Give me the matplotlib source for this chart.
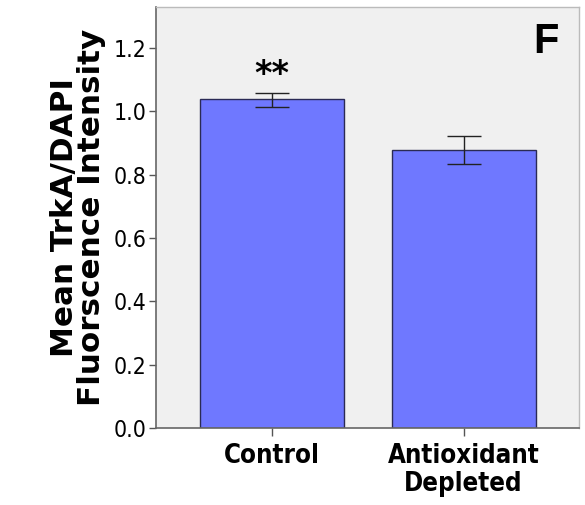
import matplotlib
matplotlib.use("Agg")
import matplotlib.pyplot as plt

categories = ["Control", "Antioxidant\nDepleted"]
means = [1.038, 0.877]
err_low = [0.023, 0.043]
err_high = [0.021, 0.044]
yticks = [0.0, 0.2, 0.4, 0.6, 0.8, 1.0, 1.2]
ytick_labels = ["0.0", "0.2", "0.4", "0.6", "0.8", "1.0", "1.2"]

fig = plt.figure(figsize=(5.85, 5.05), dpi=100)
ax = fig.add_axes([156 / 585, 1 - 428 / 505, (579 - 156) / 585, (428 - 7) / 505])
ax.set_facecolor("#f0f0f0")

x = list(range(len(categories)))
ax.bar(x, means, width=0.752, color="#6f78ff", edgecolor="#2a2a55", linewidth=1.0, zorder=2)
ax.errorbar(x, means, yerr=[err_low, err_high], fmt="none", ecolor="#222222",
            elinewidth=1.0, capsize=12.5, capthick=1.0, zorder=3)

ax.set_xlim(-0.606, 1.603)
ax.set_ylim(0, 1.33)
ax.set_yticks(yticks)
ax.set_yticklabels(ytick_labels, fontsize=16.5, fontstretch="condensed")
ax.set_xticks(x)
ax.set_xticklabels(categories, fontsize=18.5, fontweight="bold", fontstretch="condensed",
                   linespacing=1.1)
ax.tick_params(axis="y", length=5, width=1, color="#555555", pad=2)
ax.tick_params(axis="x", length=6, width=1, color="#555555", pad=5)

for side in ("left", "bottom"):
    ax.spines[side].set_color("#666666")
    ax.spines[side].set_linewidth(1.2)
for side in ("top", "right"):
    ax.spines[side].set_color("#bbbbbb")
    ax.spines[side].set_linewidth(1.0)

ax.set_ylabel("Mean TrkA/DAPI\nFluorscence Intensity", fontsize=22.3, fontweight="bold",
              linespacing=0.92, labelpad=5)

ax.text(0, means[0] + err_high[0] + 0.006, "**", ha="center", va="bottom",
        fontsize=24, fontweight="bold")
ax.text(0.953, 0.918, "F", transform=ax.transAxes, ha="right", va="center",
        fontsize=30, fontweight="bold", family="Liberation Sans")

fig.savefig("out.png", dpi=100)
